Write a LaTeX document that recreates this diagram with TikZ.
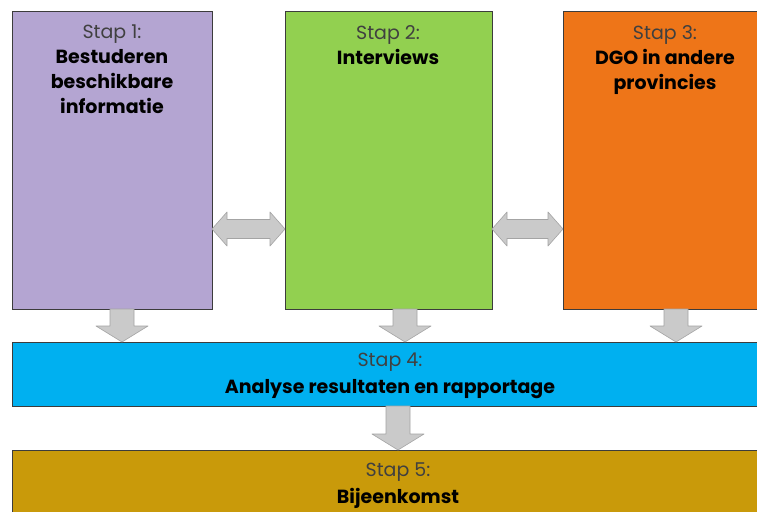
\documentclass[tikz,border=0pt]{standalone}
\usepackage{fontspec}
\setmainfont{Poppins}
\definecolor{c1}{HTML}{B4A5D2}
\definecolor{c2}{HTML}{92D050}
\definecolor{c3}{HTML}{EE7518}
\definecolor{c4}{HTML}{00B0F0}
\definecolor{c5}{HTML}{C99A0A}
\definecolor{boxline}{HTML}{3C3C3C}
\definecolor{stapgray}{HTML}{404040}
\definecolor{arrfill}{HTML}{CACACA}
\definecolor{arrline}{HTML}{A4A4A4}
\newcommand\blockdown[3]{% cx, ytop, ybottom
  \filldraw[blockarrow] (#1-12,#2) -- (#1+12,#2) -- (#1+12,#3-16) -- (#1+26,#3-16)
    -- (#1,#3) -- (#1-26,#3-16) -- (#1-12,#3-16) -- cycle;}
\newcommand\blockdouble[3]{% xleft, xright, cy
  \filldraw[blockarrow] (#1,#3) -- (#1+15,#3-17) -- (#1+15,#3-9.5) -- (#2-15,#3-9.5)
    -- (#2-15,#3-17) -- (#2,#3) -- (#2-15,#3+17) -- (#2-15,#3+9.5) -- (#1+15,#3+9.5)
    -- (#1+15,#3+17) -- cycle;}
\begin{document}
\begin{tikzpicture}[x=1pt,y=-1pt,
  box/.style={draw=boxline, line width=0.8pt, inner sep=0pt, anchor=north west},
  label/.style={anchor=north, align=center, inner sep=0pt,
    font=\fontsize{19}{25}\selectfont, text=black},
  widelabel/.style={label, font=\fontsize{19}{27}\selectfont},
  blockarrow/.style={fill=arrfill, draw=arrline, line width=0.6pt, line join=round}]
\useasboundingbox (0,0) rectangle (757,511);
\fill[white] (0,0) rectangle (757,511);
\begin{scope}
\clip (0,0) rectangle (757,511);
\node[box, fill=c1, minimum width=200pt, minimum height=298pt] (b1) at (12,11) {};
\node[box, fill=c2, minimum width=207pt, minimum height=298pt] (b2) at (285,11) {};
\node[box, fill=c3, minimum width=205pt, minimum height=298pt] (b3) at (563,11) {};
\node[box, fill=c4, minimum width=756pt, minimum height=64pt] (b4) at (12,342) {};
\node[box, fill=c5, minimum width=756pt, minimum height=90pt] (b5) at (12,450) {};

\node[label] (t1) at (112,25) {{\color{stapgray}Stap 1:}\\\textbf{Bestuderen}\\\textbf{beschikbare}\\\textbf{informatie}};
\node[label] (t2) at (388,25) {{\color{stapgray}Stap 2:}\\\textbf{Interviews}};
\node[label] (t3) at (665,25) {{\color{stapgray}Stap 3:}\\\textbf{DGO in andere}\\\textbf{provincies}};
\node[widelabel] (t4) at (390,353) {{\color{stapgray}Stap 4:}\\\textbf{Analyse resultaten en rapportage}};
\node[widelabel] (t5) at (398,463) {{\color{stapgray}Stap 5:}\\\textbf{Bijeenkomst}};

\blockdouble{212}{285}{229}
\blockdouble{492}{563}{229}
\blockdown{122}{309}{342}
\blockdown{405}{309}{342}
\blockdown{676}{309}{342}
\blockdown{398}{406}{450}
\end{scope}
\end{tikzpicture}
\end{document}
